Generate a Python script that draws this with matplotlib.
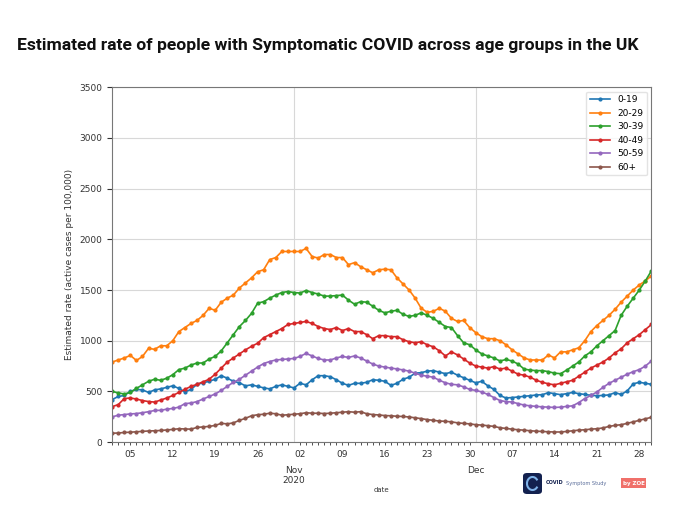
import matplotlib
matplotlib.use("Agg")
import matplotlib.pyplot as plt
import matplotlib.dates as mdates
from matplotlib.patches import FancyBboxPatch, Rectangle, Arc
from matplotlib.ticker import FuncFormatter, MultipleLocator
import pandas as pd

# daily estimates, 2 Oct 2020 .. 30 Dec 2020
dates = pd.date_range("2020-10-02", periods=90, freq="D")

age_0_19 = [420, 450, 460, 500, 520, 515, 490, 515, 525, 540,
            555, 530, 495, 520, 570, 585, 600, 620, 655, 630,
            600, 585, 555, 565, 550, 535, 525, 550, 565, 550,
            535, 580, 565, 615, 655, 655, 645, 615, 580, 560,
            580, 580, 590, 615, 610, 600, 560, 580, 620, 640,
            680, 685, 700, 705, 690, 675, 690, 660, 635, 610,
            585, 600, 555, 520, 460, 435, 440, 445, 452, 458,
            465, 468, 488, 478, 468, 478, 490, 478, 470, 462,
            458, 460, 466, 488, 470, 505, 575, 590, 580, 570]

age_20_29 = [790, 810, 830, 855, 805, 845, 925, 915, 950, 950,
             1000, 1090, 1130, 1170, 1200, 1250, 1320, 1300, 1380, 1420,
             1450, 1520, 1570, 1620, 1680, 1700, 1800, 1820, 1880, 1880,
             1880, 1880, 1910, 1830, 1815, 1850, 1850, 1820, 1820, 1750,
             1770, 1730, 1700, 1670, 1700, 1705, 1700, 1620, 1560, 1500,
             1420, 1320, 1280, 1290, 1320, 1290, 1220, 1190, 1200, 1130,
             1080, 1040, 1020, 1020, 1000, 960, 910, 870, 830, 810,
             810, 810, 860, 830, 890, 890, 910, 930, 1000, 1090,
             1150, 1200, 1250, 1310, 1380, 1440, 1500, 1550, 1590, 1640]

age_30_39 = [500, 485, 475, 490, 530, 565, 600, 620, 610, 630,
             665, 715, 730, 760, 780, 780, 820, 845, 900, 980,
             1060, 1140, 1200, 1270, 1370, 1385, 1420, 1450, 1475, 1485,
             1475, 1470, 1495, 1475, 1460, 1440, 1440, 1445, 1450, 1400,
             1360, 1385, 1380, 1340, 1300, 1275, 1290, 1300, 1260, 1240,
             1250, 1275, 1250, 1220, 1180, 1140, 1130, 1050, 980, 960,
             910, 870, 850, 830, 800, 815, 800, 770, 720, 710,
             705, 705, 695, 680, 675, 710, 750, 790, 850, 890,
             950, 1000, 1050, 1100, 1250, 1340, 1420, 1500, 1590, 1690]

age_40_49 = [350, 370, 430, 435, 425, 410, 400, 395, 415, 435,
             460, 490, 520, 550, 570, 595, 620, 670, 730, 790,
             830, 870, 910, 945, 975, 1030, 1060, 1090, 1120, 1160,
             1170, 1180, 1190, 1170, 1140, 1120, 1110, 1130, 1100, 1120,
             1090, 1090, 1060, 1020, 1050, 1050, 1040, 1040, 1010, 990,
             980, 990, 960, 940, 900, 850, 890, 860, 820, 780,
             750, 740, 730, 745, 720, 730, 700, 670, 660, 640,
             610, 590, 575, 565, 580, 595, 610, 650, 690, 730,
             760, 790, 830, 880, 920, 980, 1020, 1060, 1110, 1160]

age_50_59 = [250, 265, 272, 278, 282, 290, 300, 312, 314, 325,
             332, 345, 380, 385, 400, 425, 450, 475, 510, 550,
             590, 620, 660, 700, 740, 775, 795, 810, 815, 820,
             825, 845, 875, 850, 825, 810, 810, 830, 845, 835,
             850, 830, 800, 770, 750, 740, 730, 722, 712, 700,
             680, 660, 650, 640, 610, 585, 570, 565, 545, 520,
             510, 495, 470, 440, 410, 400, 395, 380, 365, 358,
             352, 348, 345, 342, 345, 352, 358, 390, 430, 460,
             495, 540, 580, 610, 640, 670, 695, 715, 750, 800]

age_60_plus = [88, 90, 95, 98, 102, 106, 110, 112, 115, 120,
               125, 132, 130, 128, 145, 150, 155, 165, 185, 180,
               190, 215, 235, 260, 270, 275, 285, 280, 265, 270,
               275, 280, 290, 285, 285, 282, 285, 290, 295, 300,
               295, 300, 280, 272, 268, 262, 260, 255, 253, 248,
               240, 232, 222, 215, 208, 205, 200, 190, 185, 180,
               172, 168, 162, 155, 142, 135, 128, 122, 118, 112,
               108, 105, 102, 100, 100, 105, 112, 118, 122, 128,
               132, 140, 155, 165, 172, 185, 200, 215, 230, 245]

labels = ["0-19", "20-29", "30-39", "40-49", "50-59", "60+"]
series = [age_0_19, age_20_29, age_30_39, age_40_49, age_50_59, age_60_plus]
colors = ["#1f77b4", "#ff7f0e", "#2ca02c", "#d62728", "#9467bd", "#8c564b"]

fig = plt.figure(figsize=(6.8, 5.22), dpi=100)
ax = fig.add_axes([0.165, 0.153, 0.793, 0.680])

for lab, vals, c in zip(labels, series, colors):
    ax.plot(dates, vals, "-", marker="o", markersize=2.0, linewidth=1.2,
            color=c, label=lab)

ax.set_xlim(dates[0], dates[-1])
ax.set_ylim(0, 3500)
ax.yaxis.set_major_locator(MultipleLocator(500))

# pandas-like date axis: month majors, daily minors labelled on Mondays
ax.xaxis.set_major_locator(mdates.MonthLocator())
ax.xaxis.set_major_formatter(FuncFormatter(
    lambda v, p: mdates.num2date(v).strftime("%b\n%Y") if mdates.num2date(v).month == 11
    else mdates.num2date(v).strftime("%b")))
ax.xaxis.set_minor_locator(mdates.DayLocator())
ax.xaxis.set_minor_formatter(FuncFormatter(
    lambda v, p: mdates.num2date(v).strftime("%d") if mdates.num2date(v).weekday() == 0 else ""))
ax.tick_params(axis="x", which="major", pad=17, length=0, labelsize=6.5, colors="#333333")
ax.tick_params(axis="x", which="minor", length=2, labelsize=6.5, colors="#333333")
ax.tick_params(axis="y", labelsize=6.5, colors="#333333")

ax.grid(True, which="major", color="#d8d8d8", linewidth=0.8)
for s in ax.spines.values():
    s.set_color("#777777")

ax.set_xlabel("date", fontsize=5, color="#333333")
ax.xaxis.set_label_coords(0.5, -0.125)
ax.set_ylabel("Estimated rate (active cases per 100,000)", fontsize=6.5, color="#333333")

leg = ax.legend(loc="upper right", fontsize=6.5, frameon=True, handlelength=2.2)
leg.get_frame().set_edgecolor("#dddddd")

fig.text(0.025, 0.913, "Estimated rate of people with Symptomatic COVID across age groups in the UK",
         fontsize=12.6, fontweight="bold", family="Roboto", color="#111111", va="center")

# logo, bottom right
W, H = 680.0, 522.0
fig.patches.append(FancyBboxPatch((523 / W, 1 - 494 / H), 19 / W, 21 / H,
                                  boxstyle="round,pad=0,rounding_size=0.006",
                                  transform=fig.transFigure, facecolor="#13214f",
                                  edgecolor="none"))
fig.patches.append(Arc((532.5 / W, 1 - 483.5 / H), 11 / W, 13 / H, theta1=40, theta2=320,
                       transform=fig.transFigure, color="#7fb2e8", linewidth=1.5))
fig.text(546 / W, 1 - 483 / H, "COVID", fontsize=3.6, fontweight="bold", color="#13214f", va="center")
fig.text(566 / W, 1 - 483 / H, "Symptom Study", fontsize=3.6, color="#5a6d9a", va="center")
fig.patches.append(Rectangle((621 / W, 1 - 488 / H), 25 / W, 10 / H,
                             transform=fig.transFigure, facecolor="#f0706a", edgecolor="none"))
fig.text(633.5 / W, 1 - 483 / H, "by ZOE", fontsize=4, fontweight="bold", color="white",
         va="center", ha="center")

fig.savefig("out.png", dpi=100)
